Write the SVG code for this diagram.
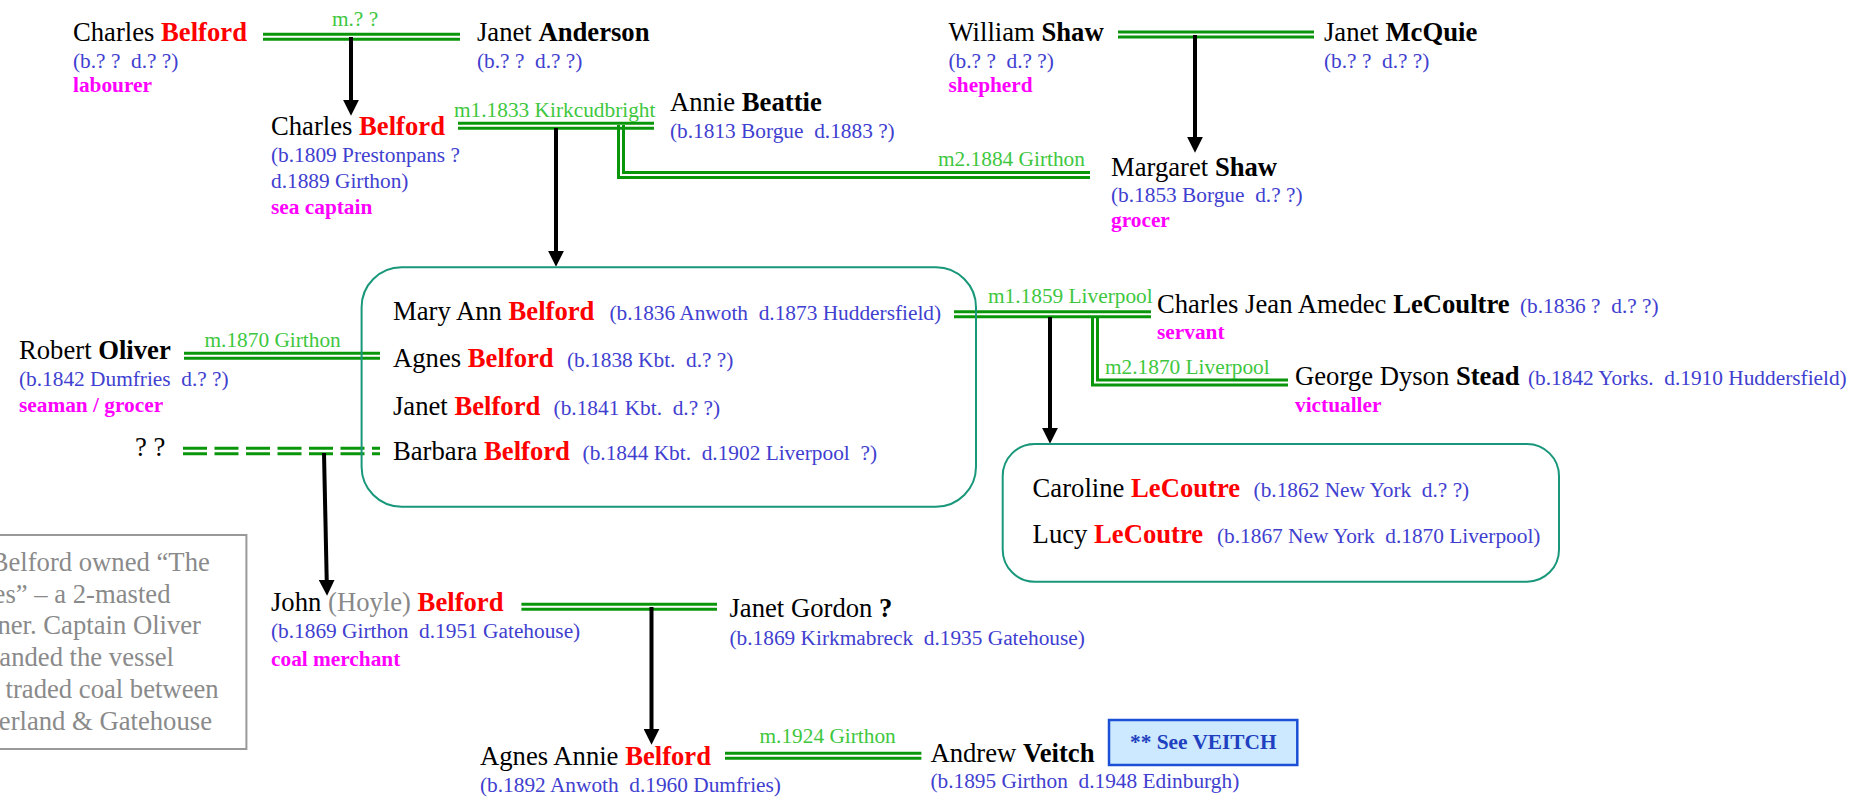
<svg xmlns="http://www.w3.org/2000/svg" width="1854" height="798" viewBox="0 0 1854 798">
<defs>
<style>
text{font-family:"Liberation Serif","Times New Roman",serif;white-space:pre}
.nm{font-size:26.67px;fill:#000}
.sn{font-weight:bold;fill:#f00}
.sb{font-weight:bold;fill:#000}
.gy{fill:#888}
.dt{font-size:21.33px;fill:#4040d0;font-weight:normal}
.oc{font-size:21.33px;font-weight:bold;fill:#f0f}
.ml{font-size:21.33px;fill:#3ec73e}
.nt{font-size:26.67px;fill:#8a8a8a;text-anchor:end}
.dbl{stroke:#0a960a;stroke-width:3;fill:none}
.arr{stroke:#000;stroke-width:4;fill:none;marker-end:url(#ah)}
.grp{fill:none;stroke:#18977a;stroke-width:2}
</style>
<marker id="ah" markerUnits="userSpaceOnUse" markerWidth="16" markerHeight="16" viewBox="0 0 15 15" refX="4" refY="7.5" orient="auto"><path d="M0,0 L15,7.5 L0,15 z" fill="#000"/></marker>
</defs>
<rect width="1854" height="798" fill="#fff"/>

<g id="connectors">
  <!-- Charles Belford = Janet Anderson -->
  <line class="dbl" x1="263" y1="34.2" x2="460" y2="34.2"/>
  <line class="dbl" x1="263" y1="39.2" x2="460" y2="39.2"/>
  <text class="ml" x="355" y="26" text-anchor="middle">m.? ?</text>
  <path class="arr" d="M351,37 V104"/>
  <!-- Charles Belford = Annie Beattie -->
  <line class="dbl" x1="458" y1="123.3" x2="654" y2="123.3"/>
  <line class="dbl" x1="458" y1="128.3" x2="654" y2="128.3"/>
  <text class="ml" x="454" y="116.7">m1.1833 Kirkcudbright</text>
  <path class="arr" d="M556,128 V255"/>
  <!-- Charles Belford = Margaret Shaw -->
  <path class="dbl" d="M618.5,125 V177.5 H1090"/>
  <path class="dbl" d="M623.5,125 V172.5 H1090"/>
  <text class="ml" x="938" y="165.7">m2.1884 Girthon</text>
  <!-- William Shaw = Janet McQuie -->
  <line class="dbl" x1="1118" y1="32" x2="1314" y2="32"/>
  <line class="dbl" x1="1118" y1="37" x2="1314" y2="37"/>
  <path class="arr" d="M1195,35 V141"/>
  <!-- Robert Oliver = Agnes -->
  <line class="dbl" x1="184" y1="353.3" x2="380" y2="353.3"/>
  <line class="dbl" x1="184" y1="358.3" x2="380" y2="358.3"/>
  <text class="ml" x="204.5" y="347.3">m.1870 Girthon</text>
  <!-- ? ? = Barbara (dashed) -->
  <line class="dbl" x1="183" y1="448.3" x2="380" y2="448.3" stroke-dasharray="24 7.5"/>
  <line class="dbl" x1="183" y1="453.8" x2="380" y2="453.8" stroke-dasharray="24 7.5"/>
  <path class="arr" d="M324,453 L326.8,584"/>
  <!-- Mary Ann = LeCoultre -->
  <line class="dbl" x1="954" y1="311.7" x2="1151" y2="311.7"/>
  <line class="dbl" x1="954" y1="316.7" x2="1151" y2="316.7"/>
  <text class="ml" x="988" y="303.3">m1.1859 Liverpool</text>
  <path class="arr" d="M1050,317 V432"/>
  <!-- Mary Ann = Stead -->
  <path class="dbl" d="M1092.5,316.7 V385 H1288"/>
  <path class="dbl" d="M1097.5,316.7 V380 H1288"/>
  <text class="ml" x="1105" y="374">m2.1870 Liverpool</text>
  <!-- John = Janet Gordon -->
  <line class="dbl" x1="521.4" y1="604.3" x2="717" y2="604.3"/>
  <line class="dbl" x1="521.4" y1="609.3" x2="717" y2="609.3"/>
  <path class="arr" d="M651.5,607 V733"/>
  <!-- Agnes Annie = Andrew Veitch -->
  <line class="dbl" x1="725" y1="753.3" x2="921.4" y2="753.3"/>
  <line class="dbl" x1="725" y1="758.3" x2="921.4" y2="758.3"/>
  <text class="ml" x="759.5" y="743.3">m.1924 Girthon</text>
</g>

<g id="charles-belford-sr">
  <text class="nm" x="73" y="41">Charles <tspan class="sn">Belford</tspan></text>
  <text class="dt" x="73" y="68">(b.? ?  d.? ?)</text>
  <text class="oc" x="73" y="92">labourer</text>
</g>
<g id="janet-anderson">
  <text class="nm" x="477" y="41">Janet <tspan class="sb">Anderson</tspan></text>
  <text class="dt" x="477" y="68">(b.? ?  d.? ?)</text>
</g>
<g id="charles-belford">
  <text class="nm" x="271" y="135">Charles <tspan class="sn">Belford</tspan></text>
  <text class="dt" x="271" y="162">(b.1809 Prestonpans ?</text>
  <text class="dt" x="271" y="188">d.1889 Girthon)</text>
  <text class="oc" x="271" y="213.5">sea captain</text>
</g>
<g id="annie-beattie">
  <text class="nm" x="670" y="111">Annie <tspan class="sb">Beattie</tspan></text>
  <text class="dt" x="670" y="138">(b.1813 Borgue  d.1883 ?)</text>
</g>
<g id="william-shaw">
  <text class="nm" x="948.5" y="41">William <tspan class="sb">Shaw</tspan></text>
  <text class="dt" x="948.5" y="68">(b.? ?  d.? ?)</text>
  <text class="oc" x="948.5" y="92">shepherd</text>
</g>
<g id="janet-mcquie">
  <text class="nm" x="1324" y="41">Janet <tspan class="sb">McQuie</tspan></text>
  <text class="dt" x="1324" y="68">(b.? ?  d.? ?)</text>
</g>
<g id="margaret-shaw">
  <text class="nm" x="1111" y="176">Margaret <tspan class="sb">Shaw</tspan></text>
  <text class="dt" x="1111" y="202">(b.1853 Borgue  d.? ?)</text>
  <text class="oc" x="1111" y="227">grocer</text>
</g>
<g id="robert-oliver">
  <text class="nm" x="19" y="359">Robert <tspan class="sb">Oliver</tspan></text>
  <text class="dt" x="19" y="386">(b.1842 Dumfries  d.? ?)</text>
  <text class="oc" x="19" y="412">seaman / grocer</text>
</g>
<g id="unknown-spouse">
  <text class="nm" x="135" y="456">? ?</text>
</g>
<g id="belford-children">
  <rect class="grp" x="361.6" y="267.3" width="614.4" height="239.4" rx="40" ry="40"/>
  <text class="nm" x="393" y="320">Mary Ann <tspan class="sn">Belford</tspan><tspan class="dt" x="609.4">(b.1836 Anwoth  d.1873 Huddersfield)</tspan></text>
  <text class="nm" x="393" y="367">Agnes <tspan class="sn">Belford</tspan><tspan class="dt" x="567">(b.1838 Kbt.  d.? ?)</tspan></text>
  <text class="nm" x="393" y="415">Janet <tspan class="sn">Belford</tspan><tspan class="dt" x="553.6">(b.1841 Kbt.  d.? ?)</tspan></text>
  <text class="nm" x="393" y="460">Barbara <tspan class="sn">Belford</tspan><tspan class="dt" x="582.6">(b.1844 Kbt.  d.1902 Liverpool  ?)</tspan></text>
</g>
<g id="charles-lecoultre">
  <text class="nm" x="1157" y="313">Charles Jean Amedec <tspan class="sb">LeCoultre</tspan><tspan class="dt" x="1520">(b.1836 ?  d.? ?)</tspan></text>
  <text class="oc" x="1157" y="339">servant</text>
</g>
<g id="george-stead">
  <text class="nm" x="1295" y="385">George Dyson <tspan class="sb">Stead</tspan><tspan class="dt" x="1528">(b.1842 Yorks.  d.1910 Huddersfield)</tspan></text>
  <text class="oc" x="1295" y="412">victualler</text>
</g>
<g id="lecoutre-children">
  <rect class="grp" x="1002.7" y="444" width="556.3" height="137.7" rx="32" ry="32"/>
  <text class="nm" x="1032.6" y="497">Caroline <tspan class="sn">LeCoutre</tspan><tspan class="dt" x="1253.6">(b.1862 New York  d.? ?)</tspan></text>
  <text class="nm" x="1032.6" y="543">Lucy <tspan class="sn">LeCoutre</tspan><tspan class="dt" x="1217">(b.1867 New York  d.1870 Liverpool)</tspan></text>
</g>
<g id="note">
  <rect x="-20" y="535" width="266.4" height="214" fill="none" stroke="#999" stroke-width="2"/>
  <text class="nt" x="209.8" y="570.7">Belford owned “The</text>
  <text class="nt" x="170.5" y="602.7">es” – a 2-masted</text>
  <text class="nt" x="201" y="634.3">ner. Captain Oliver</text>
  <text class="nt" x="174" y="666">anded the vessel</text>
  <text class="nt" x="218.7" y="698.3">traded coal between</text>
  <text class="nt" x="212" y="730">erland &amp; Gatehouse</text>
</g>
<g id="john-belford">
  <text class="nm" x="271" y="611">John <tspan class="gy">(Hoyle)</tspan> <tspan class="sn">Belford</tspan></text>
  <text class="dt" x="271" y="638">(b.1869 Girthon  d.1951 Gatehouse)</text>
  <text class="oc" x="271" y="666">coal merchant</text>
</g>
<g id="janet-gordon">
  <text class="nm" x="729.5" y="617">Janet Gordon <tspan class="sb">?</tspan></text>
  <text class="dt" x="729.5" y="645">(b.1869 Kirkmabreck  d.1935 Gatehouse)</text>
</g>
<g id="agnes-annie-belford">
  <text class="nm" x="480" y="765">Agnes Annie <tspan class="sn">Belford</tspan></text>
  <text class="dt" x="480" y="792">(b.1892 Anwoth  d.1960 Dumfries)</text>
</g>
<g id="andrew-veitch">
  <text class="nm" x="930.4" y="762">Andrew <tspan class="sb">Veitch</tspan></text>
  <text class="dt" x="930.4" y="788">(b.1895 Girthon  d.1948 Edinburgh)</text>
</g>
<g id="see-veitch">
  <rect x="1109" y="720" width="188.3" height="45" fill="#cce9ff" stroke="#1a4fd6" stroke-width="2.5"/>
  <text x="1130" y="749.3" font-size="21.33" font-weight="bold" fill="#2040c0">** See VEITCH</text>
</g>
</svg>
